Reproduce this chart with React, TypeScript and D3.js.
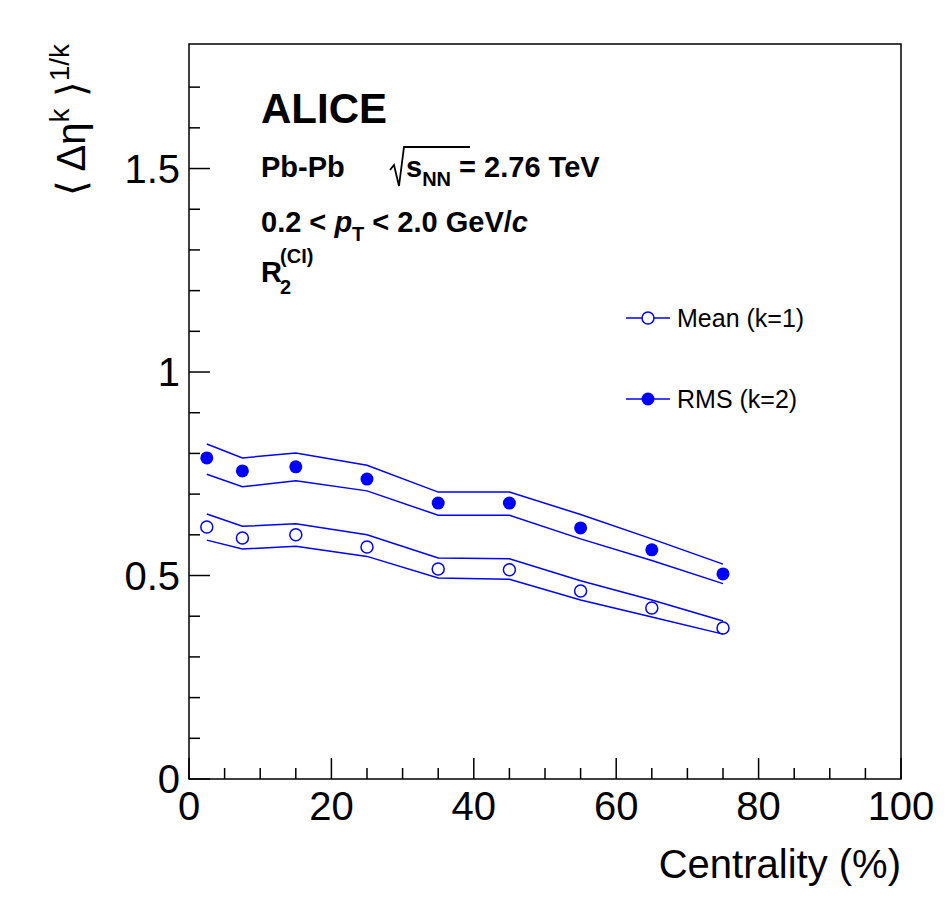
import * as d3 from 'd3';

const centrality = [2.5, 7.5, 15, 25, 35, 45, 55, 65, 75];
const rmsValues = [0.789, 0.757, 0.767, 0.737, 0.678, 0.678, 0.617, 0.563, 0.504];
const rmsUpper = [0.823, 0.789, 0.801, 0.771, 0.705, 0.705, 0.650, 0.590, 0.528];
const rmsLower = [0.749, 0.718, 0.733, 0.708, 0.648, 0.648, 0.590, 0.537, 0.480];
const meanValues = [0.619, 0.592, 0.600, 0.570, 0.516, 0.514, 0.462, 0.420, 0.371];
const meanUpper = [0.651, 0.621, 0.627, 0.600, 0.543, 0.541, 0.487, 0.440, 0.388];
const meanLower = [0.587, 0.565, 0.572, 0.547, 0.494, 0.491, 0.440, 0.398, 0.356];
const xTicks = [0, 20, 40, 60, 80, 100];
const yTicks = [0, 0.5, 1, 1.5];

const blue = '#0000ff';
const font = 'Liberation Sans, Arial, sans-serif';

export default function App() {
  const left = 189, right = 901, top = 44, bottom = 779;
  const x = d3.scaleLinear().domain([0, 100]).range([left, right]);
  const y = d3.scaleLinear().domain([0, 1.806]).range([bottom, top]);
  const line = (vals: number[]) =>
    d3.line<number>().x((_, i) => x(centrality[i])).y(v => y(v))(vals) || '';
  const xMinor = d3.range(0, 101, 5);
  const yMinor = d3.range(0, 1.8, 0.1);
  return (
    <svg width={950} height={918} style={{ position: 'absolute', left: 0, top: 0, background: '#fff' }}>
      <rect x={left} y={top} width={right - left} height={bottom - top} fill="none" stroke="#000" strokeWidth={1.5} />
      {xMinor.map(v => (
        <line key={'xm' + v} x1={x(v)} x2={x(v)} y1={bottom} y2={bottom - (v % 20 === 0 ? 21 : 11)} stroke="#000" strokeWidth={1.5} />
      ))}
      {yMinor.map(v => {
        const major = Math.abs(v * 2 - Math.round(v * 2)) < 1e-6;
        return <line key={'ym' + v} x1={left} x2={left + (major ? 21 : 11)} y1={y(v)} y2={y(v)} stroke="#000" strokeWidth={1.5} />;
      })}
      {xTicks.map(v => (
        <text key={'xt' + v} x={x(v)} y={820} textAnchor="middle" fontFamily={font} fontSize={40}>{v}</text>
      ))}
      {yTicks.map(v => (
        <text key={'yt' + v} x={180} y={y(v) + 14} textAnchor="end" fontFamily={font} fontSize={40}>{v}</text>
      ))}
      <text x={901} y={878} textAnchor="end" fontFamily={font} fontSize={40}>Centrality (%)</text>
      <text transform="translate(85,44) rotate(-90)" textAnchor="end" fontFamily={font} fontSize={40}>
        ⟨ Δη<tspan dy={-16} fontSize={28}>k</tspan><tspan dy={16}> ⟩</tspan><tspan dy={-16} fontSize={28}>1/k</tspan>
      </text>

      {[rmsUpper, rmsLower, meanUpper, meanLower].map((arr, i) => (
        <path key={'b' + i} d={line(arr)} fill="none" stroke={blue} strokeWidth={1.5} />
      ))}
      {rmsValues.map((v, i) => (
        <circle key={'r' + i} cx={x(centrality[i])} cy={y(v)} r={6.5} fill={blue} />
      ))}
      {meanValues.map((v, i) => (
        <circle key={'m' + i} cx={x(centrality[i])} cy={y(v)} r={6} fill="none" stroke={blue} strokeWidth={1.5} />
      ))}

      <g fontFamily={font} fontWeight="bold">
        <text x={261} y={123} fontSize={42}>ALICE</text>
        <text x={261} y={177} fontSize={29}>Pb-Pb</text>
        <path d="M390,170 L394,165 L399,186 L404,147 L470,147" fill="none" stroke="#000" strokeWidth={1.8} />
        <text x={406} y={177} fontSize={29}>s<tspan dy={9} fontSize={20}>NN</tspan><tspan dy={-9}> = 2.76 TeV</tspan></text>
        <text x={261} y={232} fontSize={29}>0.2 &lt; <tspan fontStyle="italic">p</tspan><tspan dy={9} fontSize={20}>T</tspan><tspan dy={-9}> &lt; 2.0 GeV/</tspan><tspan fontStyle="italic">c</tspan></text>
        <text x={261} y={282} fontSize={29}>R<tspan dx={-2} dy={12} fontSize={20}>2</tspan><tspan dx={-11} dy={-31} fontSize={20}>(CI)</tspan></text>
      </g>

      <g fontFamily={font} fontSize={25}>
        <line x1={626} x2={670} y1={318} y2={318} stroke={blue} strokeWidth={1.5} />
        <circle cx={648} cy={318} r={6} fill="#fff" stroke={blue} strokeWidth={1.5} />
        <text x={677} y={327}>Mean (k=1)</text>
        <line x1={626} x2={670} y1={399} y2={399} stroke={blue} strokeWidth={1.5} />
        <circle cx={648} cy={399} r={6.5} fill={blue} />
        <text x={677} y={408}>RMS (k=2)</text>
      </g>
    </svg>
  );
}
